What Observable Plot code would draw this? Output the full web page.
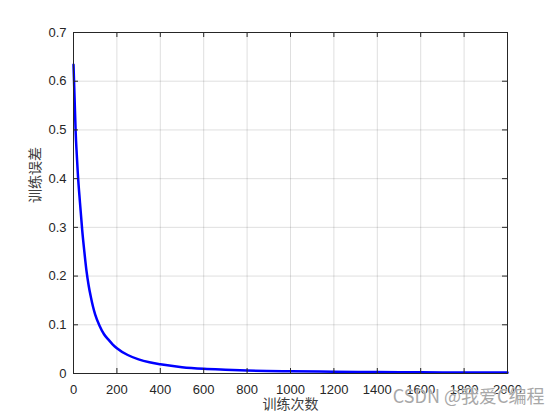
<!DOCTYPE html>
<html><head><meta charset="utf-8">
<script src="https://cdn.jsdelivr.net/npm/d3@7"></script>
<script src="https://cdn.jsdelivr.net/npm/@observablehq/plot@0.6"></script>
<style>body{margin:0;background:#fff}</style>
</head><body><div id="chart"></div>
<script>
// Training iterations and training error
const epochs = [0, 5, 10, 15, 20, 30, 40, 50, 60, 70, 80, 90, 100, 120, 140, 160, 180, 200, 250, 300, 350, 400, 500, 600, 700, 800, 1000, 1200, 1400, 1600, 1800, 2000];
const errors = [0.634, 0.565, 0.495, 0.45, 0.41, 0.35, 0.295, 0.25, 0.21, 0.18, 0.157, 0.137, 0.121, 0.098, 0.081, 0.070, 0.060, 0.052, 0.038, 0.029, 0.023, 0.019, 0.013, 0.0096, 0.0077, 0.0062, 0.0046, 0.0036, 0.003, 0.0025, 0.0021, 0.0018];
const xTicks = [0, 200, 400, 600, 800, 1000, 1200, 1400, 1600, 1800, 2000];
const yTicks = [0, 0.1, 0.2, 0.3, 0.4, 0.5, 0.6, 0.7];
const xLabel = "训练次数";
const yLabel = "训练误差";
const watermark = "CSDN @我爱C编程";

const data = epochs.map((x, i) => ({x, y: errors[i]}));
const W = 560, H = 420, mL = 73, mR = 53, mT = 32, mB = 47;
const innerW = W - mL - mR, innerH = H - mT - mB;
const tk = 5;
const axisColor = "#262626";
const cjk = "'Noto Sans CJK SC', sans-serif";

const chart = Plot.plot({
  width: W, height: H,
  marginLeft: mL, marginRight: mR, marginTop: mT, marginBottom: mB,
  x: {domain: [0, 2000]},
  y: {domain: [0, 0.7]},
  style: {fontFamily: "'Liberation Sans', Arial, sans-serif", fontSize: "13px", color: axisColor, background: "#fff"},
  marks: [
    Plot.gridX(xTicks, {stroke: axisColor, strokeOpacity: 0.15}),
    Plot.gridY(yTicks, {stroke: axisColor, strokeOpacity: 0.15}),
    Plot.line(data, {x: "x", y: "y", stroke: "#0000ff", strokeWidth: 2.5, curve: "monotone-x"}),
    Plot.tickX(xTicks, {x: d => d, insetTop: innerH - tk, stroke: axisColor}),
    Plot.tickX(xTicks, {x: d => d, insetBottom: innerH - tk, stroke: axisColor}),
    Plot.tickY(yTicks, {y: d => d, insetRight: innerW - tk, stroke: axisColor}),
    Plot.tickY(yTicks, {y: d => d, insetLeft: innerW - tk, stroke: axisColor}),
    Plot.frame({stroke: axisColor}),
    Plot.axisX(xTicks, {tickSize: 0, tickPadding: 11, tickFormat: d => String(d), label: null, fill: axisColor}),
    Plot.axisY(yTicks, {tickSize: 0, tickPadding: 7, tickFormat: d3.format("~g"), label: null, fill: axisColor}),
    Plot.text([xLabel], {text: d => d, frameAnchor: "bottom", dy: 35, fontFamily: cjk, fontSize: 14, fill: "#404040"}),
    Plot.text([yLabel], {text: d => d, frameAnchor: "left", dx: -38, rotate: -90, fontFamily: cjk, fontSize: 14, fill: "#404040"}),
    Plot.text([watermark], {text: d => d, frameAnchor: "bottom-right", textAnchor: "end", dx: 37, dy: 29, fontFamily: cjk, fontSize: 18, fill: "#a8a8a8", stroke: "#fff", strokeWidth: 0.5})
  ]
});
document.getElementById("chart").append(chart);
</script>
</body></html>
